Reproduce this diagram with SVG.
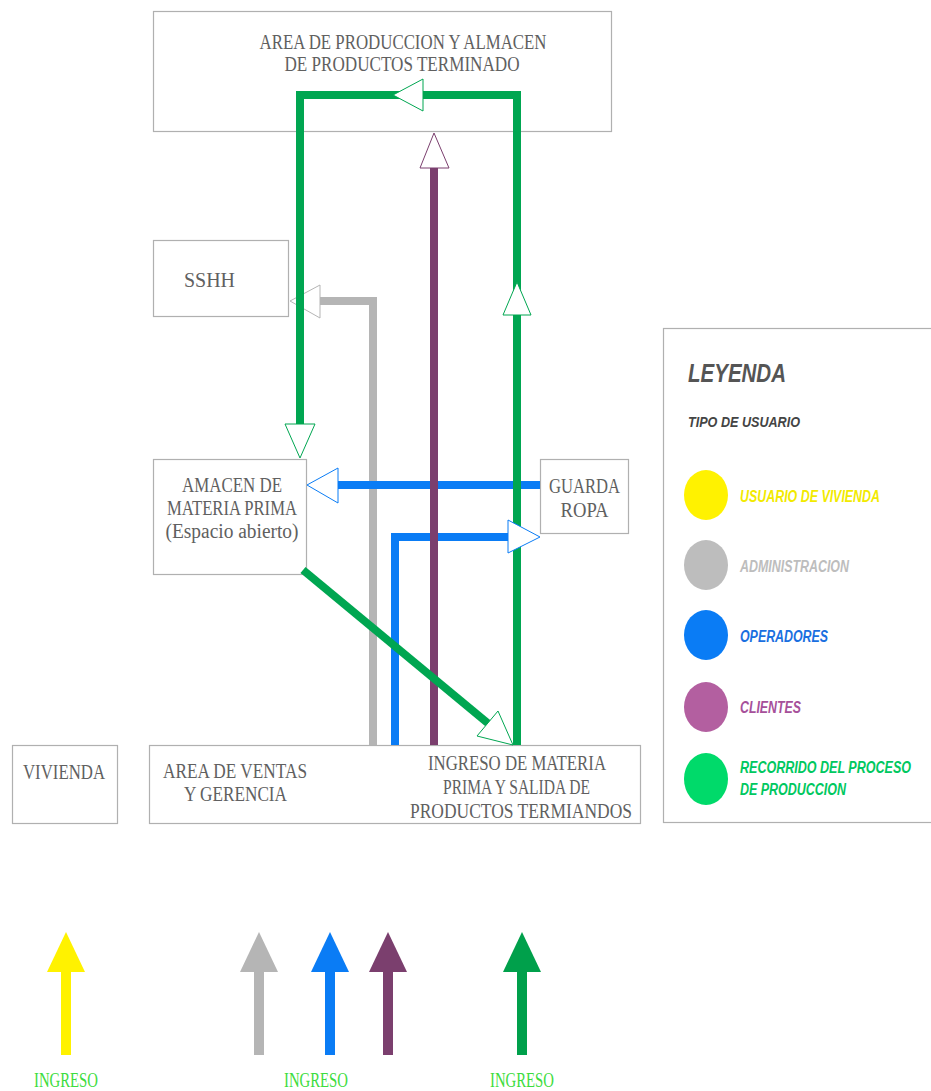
<svg xmlns="http://www.w3.org/2000/svg" width="931" height="1091" viewBox="0 0 931 1091">
<style>
.box{fill:#fff;stroke:#b0b0b0;stroke-width:1.2}
.nt{font-family:"Liberation Serif",serif;font-size:20px;fill:#606060;text-anchor:middle}
.ln{fill:none;stroke-linejoin:miter}
.g{stroke:#00A651;stroke-width:8}
.b{stroke:#0A7CF5;stroke-width:8}
.p{stroke:#7B3F6E;stroke-width:8}
.y{stroke:#B5B5B5;stroke-width:8}
.ah{fill:#fff;stroke-width:1}
.lg{font-family:"Liberation Sans",Arial,sans-serif;font-weight:bold;font-style:italic}
.ing{font-family:"Liberation Serif",serif;font-size:20px;fill:#3DDC3D;text-anchor:middle}
</style>
<rect width="931" height="1091" fill="#fff"/>

<g id="n-produccion">
<rect class="box" x="153.5" y="11.5" width="458" height="120"/>
<text class="nt" x="403" y="49" textLength="287" lengthAdjust="spacingAndGlyphs">AREA DE PRODUCCION Y ALMACEN</text>
<text class="nt" x="402" y="71" textLength="235" lengthAdjust="spacingAndGlyphs">DE PRODUCTOS TERMINADO</text>
</g>
<g id="n-sshh">
<rect class="box" x="153.5" y="240.5" width="135" height="76"/>
<text class="nt" x="209.5" y="287" textLength="51" lengthAdjust="spacingAndGlyphs">SSHH</text>
</g>
<g id="n-amacen">
<rect class="box" x="153.5" y="459.5" width="153" height="115"/>
<text class="nt" x="232" y="492" textLength="100" lengthAdjust="spacingAndGlyphs">AMACEN DE</text>
<text class="nt" x="232" y="515" textLength="130" lengthAdjust="spacingAndGlyphs">MATERIA PRIMA</text>
<text class="nt" x="232" y="538" textLength="133" lengthAdjust="spacingAndGlyphs">(Espacio abierto)</text>
</g>
<g id="n-guarda">
<rect class="box" x="540.5" y="459.5" width="88" height="74"/>
<text class="nt" x="584.5" y="493" textLength="71" lengthAdjust="spacingAndGlyphs">GUARDA</text>
<text class="nt" x="584.5" y="517" textLength="48" lengthAdjust="spacingAndGlyphs">ROPA</text>
</g>
<g id="n-vivienda">
<rect class="box" x="12.5" y="745.5" width="105" height="78"/>
<text class="nt" x="64" y="779" textLength="82" lengthAdjust="spacingAndGlyphs">VIVIENDA</text>
</g>
<g id="n-ventas">
<rect class="box" x="149.5" y="745.5" width="491" height="78"/>
<text class="nt" x="235" y="778" textLength="144" lengthAdjust="spacingAndGlyphs">AREA DE VENTAS</text>
<text class="nt" x="235.5" y="801" textLength="103" lengthAdjust="spacingAndGlyphs">Y GERENCIA</text>
<text class="nt" x="517" y="770" textLength="178" lengthAdjust="spacingAndGlyphs">INGRESO DE MATERIA</text>
<text class="nt" x="516.5" y="794" textLength="147" lengthAdjust="spacingAndGlyphs">PRIMA Y SALIDA DE</text>
<text class="nt" x="521" y="818" textLength="222" lengthAdjust="spacingAndGlyphs">PRODUCTOS TERMIANDOS</text>
</g>

<g id="connectors">
<polyline class="ln y" points="373,745 373,301 320,301"/>
<polygon class="ah" stroke="#B5B5B5" points="290,301 320,285 320,318"/>
<polyline class="ln b" points="540,485 338,485"/>
<polygon class="ah" stroke="#0A7CF5" points="307,485 338,468 338,503"/>
<polyline class="ln b" points="395,745 395,537 508,537"/>
<polyline class="ln p" points="434,745 434,168"/>
<polygon class="ah" stroke="#7B3F6E" points="434,133 420,168 449,168"/>
<polyline class="ln g" points="517,745 517,95 300,95 300,424"/>
<polygon class="ah" stroke="#00A651" points="393,95 423,79 423,111"/>
<polygon class="ah" stroke="#00A651" points="517,282 503,315 531,315"/>
<polygon class="ah" stroke="#00A651" points="300,458 285,424 315,424"/>
<polygon class="ah" stroke="#0A7CF5" points="540,537 508,520 508,553"/>
<line class="g" x1="303" y1="570" x2="490" y2="725" stroke-width="7"/>
<polygon class="ah" stroke="#00A651" points="513,745 477,736 498,711"/>
</g>

<g id="legend">
<rect class="box" x="663.5" y="328.5" width="280" height="494"/>
<text class="lg" x="688" y="382" font-size="25" fill="#555" textLength="98" lengthAdjust="spacingAndGlyphs">LEYENDA</text>
<text class="lg" x="688" y="427" font-size="15" fill="#444" textLength="112" lengthAdjust="spacingAndGlyphs">TIPO DE USUARIO</text>
<ellipse cx="706" cy="495" rx="22" ry="25" fill="#FFF200"/>
<text class="lg" x="740" y="502" font-size="16" fill="#F2EA00" textLength="140" lengthAdjust="spacingAndGlyphs">USUARIO DE VIVIENDA</text>
<ellipse cx="706" cy="565" rx="22" ry="25" fill="#BDBDBD"/>
<text class="lg" x="740" y="572" font-size="16" fill="#BDBDBD" textLength="109" lengthAdjust="spacingAndGlyphs">ADMINISTRACION</text>
<ellipse cx="706" cy="635" rx="22" ry="25" fill="#0A7CF5"/>
<text class="lg" x="740" y="642" font-size="16" fill="#1A6FE0" textLength="88" lengthAdjust="spacingAndGlyphs">OPERADORES</text>
<ellipse cx="706" cy="707" rx="22" ry="25" fill="#B35FA0"/>
<text class="lg" x="740" y="713" font-size="16" fill="#A6509A" textLength="61" lengthAdjust="spacingAndGlyphs">CLIENTES</text>
<ellipse cx="706" cy="779" rx="22" ry="26" fill="#00DA6A"/>
<text class="lg" x="740" y="773" font-size="16" fill="#00C860" textLength="171" lengthAdjust="spacingAndGlyphs">RECORRIDO DEL PROCESO</text>
<text class="lg" x="740" y="795" font-size="16" fill="#00C860" textLength="106" lengthAdjust="spacingAndGlyphs">DE PRODUCCION</text>
</g>

<g id="ingreso-arrows">
<rect x="61" y="970" width="10" height="85" fill="#FFF200"/>
<polygon points="66,932 47,972 85,972" fill="#FFF200"/>
<rect x="254" y="970" width="10" height="85" fill="#B5B5B5"/>
<polygon points="259,932 240,972 278,972" fill="#B5B5B5"/>
<rect x="325" y="970" width="10" height="85" fill="#0A7CF5"/>
<polygon points="330,932 311,972 349,972" fill="#0A7CF5"/>
<rect x="383" y="970" width="10" height="85" fill="#7B3F6E"/>
<polygon points="388,932 369,972 407,972" fill="#7B3F6E"/>
<rect x="517" y="970" width="10" height="85" fill="#00A04B"/>
<polygon points="522,932 503,972 541,972" fill="#00A04B"/>
<text class="ing" x="66" y="1087" textLength="64" lengthAdjust="spacingAndGlyphs">INGRESO</text>
<text class="ing" x="316" y="1087" textLength="64" lengthAdjust="spacingAndGlyphs">INGRESO</text>
<text class="ing" x="522" y="1087" textLength="64" lengthAdjust="spacingAndGlyphs">INGRESO</text>
</g>
</svg>
